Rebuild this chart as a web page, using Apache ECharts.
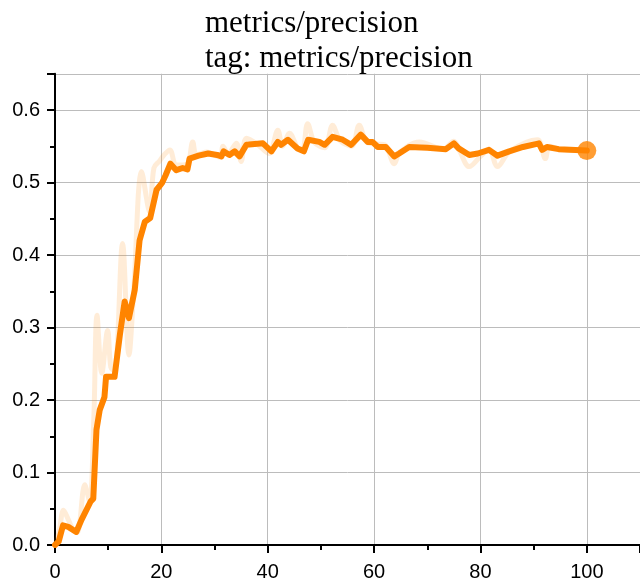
<!DOCTYPE html>
<html>
<head>
<meta charset="utf-8">
<script src="https://cdn.jsdelivr.net/npm/echarts@6/dist/echarts.min.js"></script>
<style>html,body{margin:0;padding:0;background:#fff}#c{width:640px;height:583px}</style>
</head>
<body>
<div id="c"></div>
<script>
const titleLines = ["metrics/precision", "tag: metrics/precision"];
const xTicks = [0, 20, 40, 60, 80, 100];
const yTicks = [0.0, 0.1, 0.2, 0.3, 0.4, 0.5, 0.6];

const smoothX = [0,0.7,1.5,2.5,4,5,6.7,7.2,7.8,8.4,9.3,9.6,11.2,12.2,13.1,13.9,15,15.9,16.9,17.9,19.1,20.1,20.8,21.7,22.8,24,24.9,25.3,27,28.8,30.5,31.3,31.7,32.8,33.8,34.7,36,39.1,40.7,41.9,42.5,43.8,45.6,46.8,47.6,49.7,50.7,52.2,54.1,55.7,57.5,58.8,59.7,60.7,62.2,63.8,64.7,66.6,70,73.5,75,75.9,77.9,79.5,81.6,83.2,85.4,88,90.4,91,91.6,92.5,94.7,100];
const smoothY = [0,0.005,0.027,0.025,0.018,0.035,0.060,0.064,0.159,0.186,0.204,0.232,0.232,0.29,0.336,0.313,0.352,0.42,0.446,0.451,0.49,0.499,0.51,0.526,0.517,0.52,0.518,0.533,0.537,0.540,0.538,0.536,0.543,0.538,0.543,0.536,0.552,0.554,0.543,0.556,0.552,0.559,0.547,0.543,0.559,0.556,0.552,0.563,0.559,0.552,0.566,0.556,0.556,0.549,0.549,0.536,0.540,0.549,0.548,0.546,0.554,0.547,0.538,0.540,0.545,0.537,0.543,0.549,0.553,0.554,0.545,0.549,0.546,0.544];

const rawX = [0,0.8,1.6,2.5,3.5,4.2,5.6,6.5,7.3,7.9,8.8,9.9,10.5,11.2,12.7,13.9,14.8,16.3,17.8,18.6,19.7,20.5,21.6,22.8,24.8,25.9,26.6,28.5,31.0,31.6,32.5,34.1,35,36,38,40.2,41.9,42.8,44.1,45.6,46.5,47.5,48.8,50.7,52.2,53.6,55.8,57.2,58.6,60.5,62,63.8,64.8,68.5,73,75,76,77.9,80,81.6,83.2,85.5,90.7,92.2,93,95,100];
const rawY = [0,0.02,0.048,0.035,0.02,0.017,0.083,0.06,0.175,0.317,0.237,0.296,0.245,0.24,0.416,0.262,0.35,0.515,0.46,0.52,0.53,0.538,0.545,0.524,0.525,0.556,0.538,0.542,0.535,0.55,0.54,0.554,0.529,0.561,0.553,0.54,0.572,0.55,0.568,0.548,0.545,0.581,0.555,0.548,0.579,0.558,0.55,0.579,0.556,0.553,0.552,0.526,0.541,0.556,0.546,0.557,0.545,0.522,0.536,0.546,0.522,0.543,0.559,0.533,0.55,0.546,0.544];

const smoothData = smoothX.map((x, i) => [x, smoothY[i]]);
const rawData = rawX.map((x, i) => [x, rawY[i]]);
const lastPoint = smoothData[smoothData.length - 1];

const chart = echarts.init(document.getElementById('c'), null, {renderer: 'canvas'});
const axisFont = {fontFamily: 'Liberation Sans', fontSize: 20, color: '#000'};
chart.setOption({
  animation: false,
  backgroundColor: '#fff',
  title: {
    text: titleLines.join('\n'),
    left: 200, top: 1,
    textStyle: {fontFamily: 'Liberation Serif', fontSize: 31, fontWeight: 'normal', color: '#000', lineHeight: 35}
  },
  grid: {left: 55, right: 0, top: 73.75, bottom: 38, containLabel: false},
  xAxis: {
    type: 'value', min: 0, max: 110, interval: 20,
    axisLine: {show: true, onZero: false, lineStyle: {color: '#000', width: 2}},
    axisTick: {show: true, inside: false, length: 8, lineStyle: {color: '#000', width: 2}},
    minorTick: {show: true, splitNumber: 2, length: 5, lineStyle: {color: '#000', width: 2}},
    splitLine: {show: true, lineStyle: {color: '#bcbcbc', width: 1}},
    axisLabel: Object.assign({margin: 17, showMaxLabel: false, formatter: v => xTicks.includes(v) ? String(v) : ''}, axisFont)
  },
  yAxis: {
    type: 'value', min: 0, max: 0.65, interval: 0.1,
    axisLine: {show: true, onZero: false, lineStyle: {color: '#000', width: 2}},
    axisTick: {show: true, inside: false, length: 8, lineStyle: {color: '#000', width: 2}},
    minorTick: {show: true, splitNumber: 2, length: 5, lineStyle: {color: '#000', width: 2}},
    splitLine: {show: true, lineStyle: {color: '#bcbcbc', width: 1}},
    axisLabel: Object.assign({margin: 15, showMaxLabel: false, formatter: v => {
      const t = yTicks.find(k => Math.abs(k - v) < 1e-6);
      return t === undefined ? '' : t.toFixed(1);
    }}, axisFont)
  },
  series: [
    {type: 'line', data: rawData, showSymbol: false, smooth: 0.35, clip: true,
     lineStyle: {color: 'rgba(255,140,20,0.17)', width: 5}, z: 2},
    {type: 'line', data: smoothData, showSymbol: false, smooth: false, clip: true,
     lineStyle: {color: '#ff8400', width: 6, join: 'round', cap: 'round'}, z: 3},
    {type: 'scatter', data: [lastPoint], symbol: 'circle', symbolSize: 19,
     itemStyle: {color: '#ff8400'}, z: 4}
  ]
});
</script>
</body>
</html>
